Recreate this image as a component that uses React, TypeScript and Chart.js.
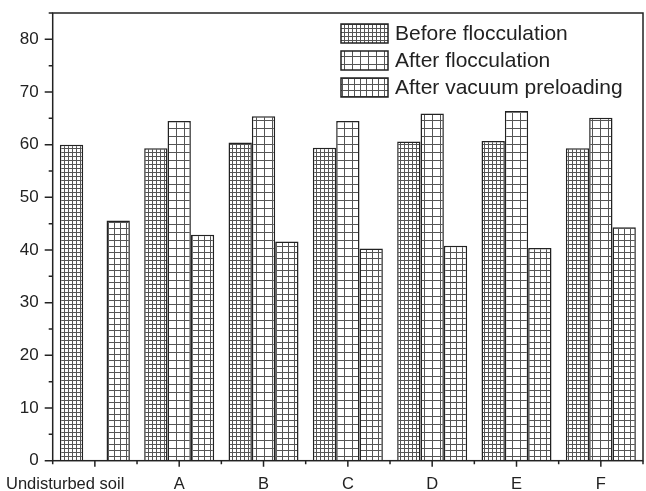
import { useEffect, useRef } from 'react';
import { Chart, registerables } from 'chart.js';

Chart.register(...registerables);

// Categories and measured values (%)
const categories = ['Undisturbed soil', 'A', 'B', 'C', 'D', 'E', 'F'];
const beforeFlocculation = [60.0, 59.3, 60.4, 59.4, 60.6, 60.7, 59.3];
const afterFlocculation = [null, 64.5, 65.4, 64.5, 65.9, 66.4, 65.1];
const afterVacuumPreloading = [45.6, 42.9, 41.6, 40.3, 40.8, 40.4, 44.3];
const seriesLabels = ['Before flocculation', 'After flocculation', 'After vacuum preloading'];
const yTickValues = [0, 10, 20, 30, 40, 50, 60, 70, 80];
const yMax = 85;

const FONT = "'Liberation Sans', Arial, sans-serif";
const INK = '#222';

// Hatched grid fill: white tile with one vertical and one horizontal line
function gridPattern(ctx: CanvasRenderingContext2D, cw: number, ch: number, color: string) {
  const tile = document.createElement('canvas');
  tile.width = cw;
  tile.height = ch;
  const g = tile.getContext('2d')!;
  g.fillStyle = '#fff';
  g.fillRect(0, 0, cw, ch);
  g.fillStyle = color;
  g.fillRect(0, 0, 1, ch);
  g.fillRect(0, 0, cw, 1);
  return ctx.createPattern(tile, 'repeat')!;
}

// Box frame, major/minor tick marks and category labels
const frameAndTicks = {
  id: 'frameAndTicks',
  afterDatasetsDraw(chart: any) {
    const { ctx, chartArea: a, scales } = chart;
    const x = scales.x;
    const y = scales.y;
    ctx.save();
    ctx.strokeStyle = INK;
    ctx.lineWidth = 1.5;
    ctx.strokeRect(a.left, a.top, a.right - a.left, a.bottom - a.top);
    ctx.beginPath();
    for (let v = 0; v <= yMax; v += 5) {
      const py = y.getPixelForValue(v);
      const len = v % 10 === 0 ? 8 : 4;
      ctx.moveTo(a.left - len, py);
      ctx.lineTo(a.left, py);
    }
    for (let i = 0; i < categories.length; i++) {
      const px = x.getPixelForValue(i);
      ctx.moveTo(px, a.bottom);
      ctx.lineTo(px, a.bottom + 6);
    }
    for (let i = 0; i <= categories.length; i++) {
      const px = x.getPixelForValue(i - 0.5);
      ctx.moveTo(px, a.bottom);
      ctx.lineTo(px, a.bottom + 3.5);
    }
    ctx.stroke();

    ctx.fillStyle = INK;
    ctx.font = `16.5px ${FONT}`;
    ctx.textBaseline = 'alphabetic';
    categories.forEach((c, i) => {
      if (i === 0) {
        ctx.textAlign = 'left';
        ctx.fillText(c, 6, a.bottom + 28.5);
      } else {
        ctx.textAlign = 'center';
        ctx.fillText(c, x.getPixelForValue(i), a.bottom + 28.5);
      }
    });
    ctx.restore();
  },
};

// Legend drawn inside the plot, top right
const insideLegend = {
  id: 'insideLegend',
  afterDraw(chart: any) {
    const { ctx } = chart;
    ctx.save();
    ctx.font = `21px ${FONT}`;
    ctx.textBaseline = 'middle';
    ctx.textAlign = 'left';
    chart.data.datasets.forEach((ds: any, i: number) => {
      const cy = 33.5 + i * 27;
      const bx = 341;
      const bw = 47;
      const bh = 19;
      ctx.fillStyle = ds.backgroundColor;
      ctx.fillRect(bx, cy - bh / 2, bw, bh);
      ctx.strokeStyle = INK;
      ctx.lineWidth = 1.5;
      ctx.strokeRect(bx, cy - bh / 2, bw, bh);
      ctx.fillStyle = INK;
      ctx.fillText(ds.label, 395, cy + 1);
    });
    ctx.restore();
  },
};

export default function App() {
  const ref = useRef<HTMLCanvasElement | null>(null);

  useEffect(() => {
    const canvas = ref.current!;
    const ctx = canvas.getContext('2d')!;
    const fills = [
      gridPattern(ctx, 4, 4, '#555'),
      gridPattern(ctx, 8, 8, '#555'),
      gridPattern(ctx, 6, 6, '#555'),
    ];
    const series = [beforeFlocculation, afterFlocculation, afterVacuumPreloading];

    const chart = new Chart(canvas, {
      type: 'bar',
      data: {
        labels: categories,
        datasets: series.map((d, i) => ({
          label: seriesLabels[i],
          data: d as any,
          backgroundColor: fills[i] as any,
          borderColor: INK,
          borderWidth: 1.5,
          barPercentage: 1,
          categoryPercentage: 0.83,
        })),
      },
      options: {
        responsive: false,
        animation: false,
        layout: { padding: { top: 13, right: 3, left: 0, bottom: 0 } },
        plugins: {
          legend: { display: false },
          tooltip: { enabled: false },
        },
        scales: {
          x: {
            type: 'category',
            offset: true,
            grid: { display: false, drawTicks: false },
            border: { display: false },
            ticks: { display: false },
            afterFit: (s: any) => {
              s.height = 30.3;
              s.paddingLeft = 0;
              s.paddingRight = 0;
            },
          },
          y: {
            min: 0,
            max: yMax,
            afterBuildTicks: (s: any) => {
              s.ticks = yTickValues.map((v) => ({ value: v }));
            },
            grid: { display: false, drawTicks: false },
            border: { display: false },
            ticks: {
              padding: 14,
              color: INK,
              font: { family: FONT, size: 17 },
            },
            afterFit: (s: any) => {
              s.width = 52.7;
              s.paddingTop = 0;
              s.paddingBottom = 0;
            },
          },
        },
      },
      plugins: [frameAndTicks, insideLegend],
    });

    return () => chart.destroy();
  }, []);

  return (
    <div style={{ position: 'absolute', left: 0, top: 0, width: 646, height: 491 }}>
      <canvas ref={ref} width={646} height={491} style={{ display: 'block' }} />
    </div>
  );
}
